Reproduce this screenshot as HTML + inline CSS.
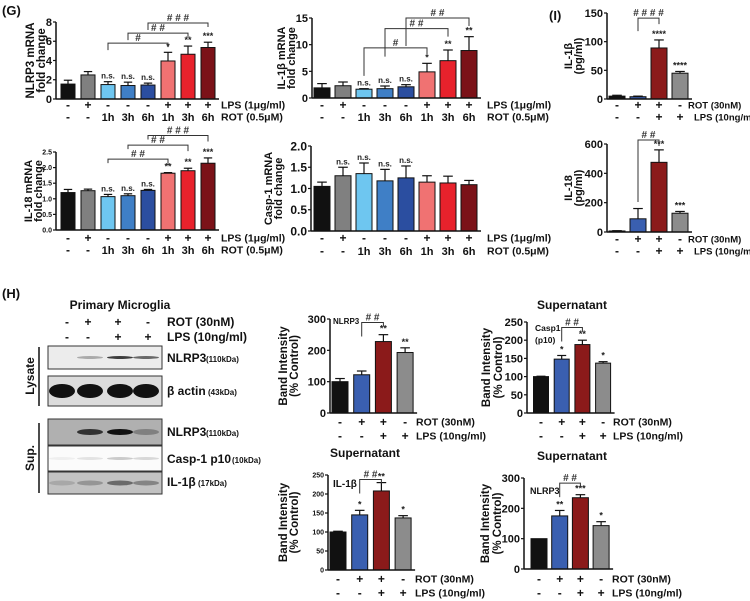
<!DOCTYPE html>
<html><head><meta charset="utf-8"><style>
html,body{margin:0;padding:0;background:#fff;}
svg{display:block;font-family:"Liberation Sans",Arial,sans-serif;}
</style></head><body>
<svg id="fig" width="750" height="601" viewBox="0 0 750 601" xmlns="http://www.w3.org/2000/svg"></svg>
<script>
// ---------- DATA ----------
const gLps = ['-','+','-','-','-','+','+','+'];
const gRot = ['-','-','1h','3h','6h','1h','3h','6h'];
const gColors = ['#111111','#808080','#6ec6f0','#3f7fc6','#2b4ea0','#f07272','#e8222c','#7b1218'];

const nlrp3Values = [1.55,2.5,1.5,1.4,1.45,3.95,4.65,5.35];
const nlrp3Errors = [0.4,0.35,0.3,0.35,0.2,0.9,0.85,0.55];
const nlrp3Stars = ['','','n.s.','n.s.','n.s.','*','**','***'];
const nlrp3Ticks = [0,2,4,6,8];

const il1bValues = [1.9,2.3,1.65,1.75,2.1,4.9,7.0,8.9];
const il1bErrors = [0.8,0.7,0.1,0.5,0.4,1.6,2.0,2.6];
const il1bStars = ['','','n.s.','n.s.','n.s.','*','**','**'];
const il1bTicks = [0,5,10,15];

const il18Values = [1.2,1.26,1.07,1.1,1.27,1.82,1.9,2.14];
const il18Errors = [0.1,0.05,0.07,0.06,0.03,0.02,0.08,0.17];
const il18Stars = ['','','n.s.','n.s.','n.s.','**','**','***'];
const il18Ticks = ['0.0','0.5','1.0','1.5','2.0','2.5'];

const casp1Values = [1.05,1.3,1.35,1.18,1.25,1.15,1.13,1.09];
const casp1Errors = [0.1,0.2,0.25,0.27,0.28,0.15,0.16,0.1];
const casp1Stars = ['','n.s.','n.s.','n.s.','n.s.','','',''];
const casp1Ticks = ['0.0','0.5','1.0','1.5','2.0'];

const hRot = ['-','+','+','-'];
const hLps = ['-','-','+','+'];
const hColors = ['#111111','#3a5fb0','#8b1a1a','#8c8c8c'];
const iColors = ['#111111','#3a5fb0','#8b1a1a','#8c8c8c'];

const iIl1bValues = [5,4,89,45];
const iIl1bErrors = [1.5,1,14,3];
const iIl1bStars = ['','','****','****'];
const iIl1bTicks = [0,50,100,150];

const iIl18Values = [7,90,475,128];
const iIl18Errors = [2,70,85,12];
const iIl18Stars = ['','','***','***'];
const iIl18Ticks = [0,200,400,600];

const hNlrp3Values = [100,122,228,193];
const hNlrp3Errors = [10,12,22,15];
const hNlrp3Stars = ['','','**','**'];
const hNlrp3Ticks = [0,100,200,300];

const hCaspValues = [100,148,188,137];
const hCaspErrors = [1,10,12,4];
const hCaspStars = ['','*','**','*'];
const hCaspTicks = [0,50,100,150,200,250];

const hIl1bValues = [100,145,208,137];
const hIl1bErrors = [2,12,22,6];
const hIl1bStars = ['','*','**','*'];
const hIl1bTicks = [0,50,100,150,200,250];

const hSupNlrp3Values = [100,175,235,143];
const hSupNlrp3Errors = [0,18,10,13];
const hSupNlrp3Stars = ['','**','***','*'];
const hSupNlrp3Ticks = [0,100,200,300];

// brackets: [fromIndex, toIndex, level (data units), label]
const nlrp3Brackets = [[2,5,5.8,'#'],[3,6,6.85,'# #'],[4,7,7.9,'# # #']];
const il1bBrackets = [[2,5,9.4,'#'],[3,6,13.0,'# #'],[4,7,15.0,'# #']];
const il18Brackets = [[2,5,2.27,'# #'],[3,6,2.72,'# #'],[4,7,3.03,'# # #']];
const iIl1bBrackets = [[1,2,141,'# # # #']];
const iIl18Brackets = [[1,2,627,'# #']];
const hNlrp3Brackets = [[1,2,289,'# #']];
const hCaspBrackets = [[1,2,235,'# #']];
const hIl1bBrackets = [[1,2,238,'# #']];
const hSupNlrp3Brackets = [[1,2,283,'# #']];

// ---------- DRAW ----------
const NS='http://www.w3.org/2000/svg';
const svg=document.getElementById('fig');
function el(tag,attrs,parent){const e=document.createElementNS(NS,tag);for(const k in attrs)e.setAttribute(k,attrs[k]);(parent||svg).appendChild(e);return e;}
function txt(s,attrs,parent){const e=el('text',attrs,parent);e.textContent=s;return e;}

function chart(c){
  const g=el('g',{});
  
  
  const y=v=>c.y0-(v/c.max)*(c.y0-c.yTop);
  const x=i=>c.x0+c.off+i*c.step;
  const n=c.values.length;
  const xEnd=x(n-1)+c.bw/2+4;
  c.values.forEach((v,i)=>{
    const r=el('rect',{x:x(i)-c.bw/2,y:y(v),width:c.bw,height:c.y0-y(v),fill:c.colors[i],stroke:'#111','stroke-width':1},g);
    
    
    const e=c.errors[i];
    if(e>0){
      el('line',{x1:x(i),x2:x(i),y1:y(v),y2:y(v+e),stroke:'#111','stroke-width':1.2},g);
      el('line',{x1:x(i)-c.bw*0.3,x2:x(i)+c.bw*0.3,y1:y(v+e),y2:y(v+e),stroke:'#111','stroke-width':1.2},g);
    }
    if(c.stars[i]){
      const t=txt(c.stars[i],{x:x(i),y:y(v+e)-3,'font-size':c.stars[i]==='n.s.'?8:9,'text-anchor':'middle','font-weight':'bold',fill:'#222'},g);
      
      
    }
  });
  const ya=el('line',{x1:c.x0,x2:c.x0,y1:c.y0,y2:c.yTop,stroke:'#111','stroke-width':1.5},g);
  
  
  const xa=el('line',{x1:c.x0,x2:xEnd,y1:c.y0,y2:c.y0,stroke:'#111','stroke-width':1.5},g);
  
  
  c.ticks.forEach(t=>{
    const v=parseFloat(t);
    el('line',{x1:c.x0-3,x2:c.x0,y1:y(v),y2:y(v),stroke:'#111','stroke-width':1.2},g);
    const tl=txt(String(t),{x:c.x0-4,y:y(v)+c.tf*0.36,'font-size':c.tf,'text-anchor':'end','font-weight':'bold',fill:'#111'},g);
    
    
  });
  const tx=c.titleX, ty=(c.y0+c.yTop)/2;
  c.ytitle.forEach((s,k)=>{
    const t=txt(s,{x:0,y:0,'font-size':c.ytf,'font-weight':'bold','text-anchor':'middle',fill:'#111',transform:`translate(${tx+k*c.sp},${ty}) rotate(-90)`},g);
    
    
  });
  c.rows.forEach((row,r)=>{
    row.forEach((s,i)=>{
      const t=txt(s,{x:x(i),y:c.rowY[r],'font-size':s.length>1?11:12,'text-anchor':'middle','font-weight':'bold',fill:'#111'},g);
      
      
    });
    const lx=(r===1&&c.labelX2)?c.labelX2:c.labelX;
    const lt=txt(c.rowLabels[r],{x:lx,y:c.rowY[r]-0.5,'font-size':c.lf||10.5,'font-weight':'bold',fill:'#111'},g);
    
    
  });
  c.brackets.forEach(b=>{
    const yy=y(b[2]), xa1=x(b[0]), xb1=x(b[1]);
    const p=el('path',{d:`M${xa1},${yy+c.legL} V${yy} H${xb1} V${yy+c.legR}`,fill:'none',stroke:'#333','stroke-width':1},g);
    
    
    const t=txt(b[3],{x:(xa1+xb1)/2,y:yy-2,'font-size':10,'text-anchor':'middle','font-weight':'bold',fill:'#333'},g);
    
    
  });
  return g;
}

const gRowLabels=['LPS (1\u03bcg/ml)','ROT (0.5\u03bcM)'];
const hRowLabels=['ROT (30nM)','LPS (10ng/ml)'];

chart({name:'nlrp3-mrna-chart',x0:56,y0:99,yTop:22,max:8,off:12,step:20,bw:14,values:nlrp3Values,errors:nlrp3Errors,stars:nlrp3Stars,colors:gColors,ticks:nlrp3Ticks,tf:11,titleX:34,sp:11,ytf:11.5,ytitle:['NLRP3 mRNA','fold change'],rows:[gLps,gRot],rowY:[109,121],rowLabels:gRowLabels,labelX:221,brackets:nlrp3Brackets,legL:7,legR:4});
chart({name:'il1b-mrna-chart',x0:312,y0:98,yTop:18,max:15,off:10,step:21,bw:16,values:il1bValues,errors:il1bErrors,stars:il1bStars,colors:gColors,ticks:il1bTicks,tf:11,titleX:285,sp:10,ytf:11,ytitle:['IL-1\u03b2 mRNA','fold change'],rows:[gLps,gRot],rowY:[109,121],rowLabels:gRowLabels,labelX:487,brackets:il1bBrackets,legL:28,legR:8});
chart({name:'il18-mrna-chart',x0:56,y0:230,yTop:152,max:2.5,off:12,step:20,bw:14,values:il18Values,errors:il18Errors,stars:il18Stars,colors:gColors,ticks:il18Ticks,tf:7,titleX:32,sp:10,ytf:11,ytitle:['IL-18 mRNA','fold change'],rows:[gLps,gRot],rowY:[242,254],rowLabels:gRowLabels,labelX:221,brackets:il18Brackets,legL:4,legR:6});
chart({name:'casp1-mrna-chart',x0:311,y0:231,yTop:146,max:2.0,off:11,step:21,bw:16,values:casp1Values,errors:casp1Errors,stars:casp1Stars,colors:gColors,ticks:casp1Ticks,tf:12,titleX:272,sp:10,ytf:11,ytitle:['Casp-1 mRNA','fold change'],rows:[gLps,gRot],rowY:[242,255],rowLabels:gRowLabels,labelX:487,brackets:[],legL:0,legR:0});

chart({name:'il1b-protein-chart',x0:607,y0:99,yTop:13,max:150,off:10,step:21,bw:16,values:iIl1bValues,errors:iIl1bErrors,stars:iIl1bStars,colors:iColors,ticks:iIl1bTicks,tf:11,titleX:572,sp:10,ytf:11,ytitle:['IL-1\u03b2','(pg/ml)'],rows:[hRot,hLps],rowY:[109,121],rowLabels:hRowLabels,labelX:688,labelX2:694,lf:9.5,brackets:iIl1bBrackets,legL:13,legR:6});
chart({name:'il18-protein-chart',x0:607,y0:232,yTop:144,max:600,off:10,step:21,bw:16,values:iIl18Values,errors:iIl18Errors,stars:iIl18Stars,colors:iColors,ticks:iIl18Ticks,tf:11,titleX:572,sp:10,ytf:11,ytitle:['IL-18','(pg/ml)'],rows:[hRot,hLps],rowY:[243,255],rowLabels:hRowLabels,labelX:688,labelX2:694,lf:9.5,brackets:iIl18Brackets,legL:62,legR:6});

chart({name:'lysate-nlrp3-band-chart',x0:330,y0:413,yTop:319,max:300,off:10,step:21.7,bw:16,values:hNlrp3Values,errors:hNlrp3Errors,stars:hNlrp3Stars,colors:hColors,ticks:hNlrp3Ticks,tf:11,titleX:287,sp:11,ytf:11.5,ytitle:['Band Intensity','(% Control)'],rows:[hRot,hLps],rowY:[426,440],rowLabels:hRowLabels,labelX:416,brackets:hNlrp3Brackets,legL:14,legR:4});
chart({name:'sup-casp1-band-chart',x0:527,y0:413,yTop:322,max:250,off:14,step:20.7,bw:15,values:hCaspValues,errors:hCaspErrors,stars:hCaspStars,colors:hColors,ticks:hCaspTicks,tf:11,titleX:490,sp:12,ytf:11.5,ytitle:['Band Intensity','(% Control)'],rows:[hRot,hLps],rowY:[426,440],rowLabels:hRowLabels,labelX:613,brackets:hCaspBrackets,legL:14,legR:4});
chart({name:'sup-il1b-band-chart',x0:328,y0:570,yTop:475,max:250,off:10,step:21.7,bw:16,values:hIl1bValues,errors:hIl1bErrors,stars:hIl1bStars,colors:hColors,ticks:hIl1bTicks,tf:7,titleX:287,sp:11,ytf:11.5,ytitle:['Band Intensity','(% Control)'],rows:[hRot,hLps],rowY:[583,597],rowLabels:hRowLabels,labelX:415,brackets:hIl1bBrackets,legL:14,legR:4});
chart({name:'sup-nlrp3-band-chart',x0:524,y0:569,yTop:478,max:300,off:15,step:20.7,bw:16,values:hSupNlrp3Values,errors:hSupNlrp3Errors,stars:hSupNlrp3Stars,colors:hColors,ticks:hSupNlrp3Ticks,tf:11,titleX:489,sp:12,ytf:11.5,ytitle:['Band Intensity','(% Control)'],rows:[hRot,hLps],rowY:[583,597],rowLabels:hRowLabels,labelX:612,brackets:hSupNlrp3Brackets,legL:14,legR:4});

function label(s,x,y,size,name,anchor){const t=txt(s,{x:x,y:y,'font-size':size,'font-weight':'bold',fill:'#111','text-anchor':anchor||'start'});return t;}
label('(G)',2,15,13,'panel-label-g');
label('(H)',2,298,13,'panel-label-h');
label('(I)',549,20,13,'panel-label-i');
label('NLRP3',333,324,8,'chart-label');
label('Casp1',535,331,8.5,'chart-label');
label('(p10)',535,343,8.5,'chart-label');
label('IL-1\u03b2',333,487,10,'chart-label');
label('NLRP3',530,494,9,'chart-label');
label('Supernatant',572,309,12,'chart-title','middle');
label('Supernatant',365,457,12,'chart-title','middle');
label('Supernatant',572,460,12,'chart-title','middle');

label('Primary Microglia',120,309,12,'blot-title','middle');
const blotLanes=[62,90,120,146];
const wbRot=['-','+','+','-'], wbLps=['-','-','+','+'];
wbRot.forEach((s,i)=>label(s,[67,88,118,148][i],326,12,'blot-sign','middle'));
wbLps.forEach((s,i)=>label(s,[67,88,118,148][i],341,12,'blot-sign','middle'));
label('ROT (30nM)',167,326,12,'blot-condition');
label('LPS (10ng/ml)',167,341,12,'blot-condition');
const blots=[
 {y:346,h:23,bg:'#ececec',name:'lysate-nlrp3-blot',bands:[0,0.3,0.8,0.6],bh:3},
 {y:376,h:30,bg:'#dcdcdc',name:'beta-actin-blot',bands:[1,1,1,1],bh:14},
 {y:419,h:26,bg:'#b0b0b0',name:'sup-nlrp3-blot',bands:[0,0.8,1,0.3],bh:6},
 {y:446,h:25,bg:'#fbfbfb',name:'casp1-p10-blot',bands:[0.05,0.1,0.2,0.15],bh:3},
 {y:472,h:22,bg:'#c2c2c2',name:'il1b-blot',bands:[0.15,0.25,0.5,0.35],bh:5}
];
blots.forEach(b=>{
  const g=el('g',{});
  
  
  el('rect',{x:48,y:b.y,width:114,height:b.h,fill:b.bg,stroke:'#333','stroke-width':1},g);
  b.bands.forEach((a,i)=>{if(a>0)el('ellipse',{cx:blotLanes[i],cy:b.y+b.h/2,rx:13,ry:b.bh/2,fill:'#111','fill-opacity':a},g);});
});
label('NLRP3',167,362,12,'blot-label');txt(' (110kDa)',{x:206,y:362,'font-size':8,'font-weight':'bold',fill:'#111'});
label('\u03b2 actin',167,395,12,'blot-label');txt(' (43kDa)',{x:208,y:395,'font-size':8,'font-weight':'bold',fill:'#111'});
label('NLRP3',167,436,12,'blot-label');txt(' (110kDa)',{x:206,y:436,'font-size':8,'font-weight':'bold',fill:'#111'});
label('Casp-1 p10',167,463,12,'blot-label');txt(' (10kDa)',{x:232,y:463,'font-size':8,'font-weight':'bold',fill:'#111'});
label('IL-1\u03b2',167,486,12,'blot-label');txt(' (17kDa)',{x:198,y:486,'font-size':8,'font-weight':'bold',fill:'#111'});
el('line',{x1:39,x2:39,y1:347,y2:406,stroke:'#111','stroke-width':1.5});
el('line',{x1:39,x2:39,y1:423,y2:493,stroke:'#111','stroke-width':1.5});
const ly=txt('Lysate',{x:0,y:0,'font-size':12,'font-weight':'bold','text-anchor':'middle',fill:'#111',transform:'translate(34,376) rotate(-90)'});

const su=txt('Sup.',{x:0,y:0,'font-size':12,'font-weight':'bold','text-anchor':'middle',fill:'#111',transform:'translate(34,458) rotate(-90)'});

</script>
</body></html>
